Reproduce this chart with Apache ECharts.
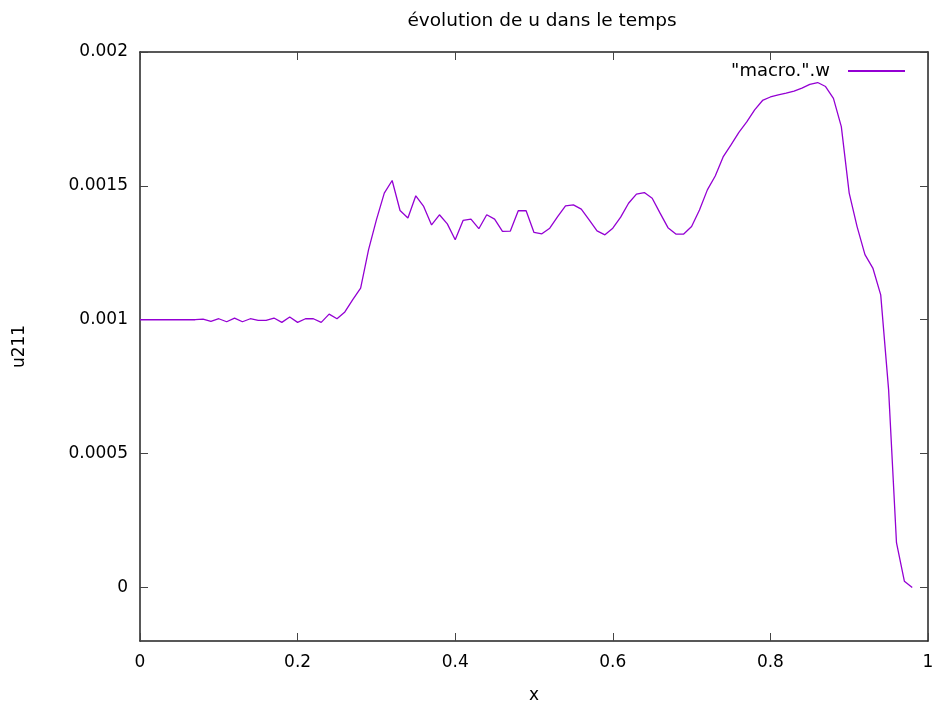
<!DOCTYPE html>
<html>
<head>
<meta charset="utf-8">
<script src="https://cdn.jsdelivr.net/npm/echarts@6/dist/echarts.min.js"></script>
<style>
html,body{margin:0;padding:0;background:#fff;}
#chart{width:938px;height:706px;}
</style>
</head>
<body>
<div id="chart"></div>
<script>
const titleText = "évolution de u dans le temps";
const seriesName = '"macro.".w';
const xValues = [0,0.01,0.02,0.03,0.04,0.05,0.06,0.07,0.08,0.09,
  0.10,0.11,0.12,0.13,0.14,0.15,0.16,0.17,0.18,0.19,
  0.20,0.21,0.22,0.23,0.24,0.25,0.26,0.27,0.28,0.29,
  0.30,0.31,0.32,0.33,0.34,0.35,0.36,0.37,0.38,0.39,
  0.40,0.41,0.42,0.43,0.44,0.45,0.46,0.47,0.48,0.49,
  0.50,0.51,0.52,0.53,0.54,0.55,0.56,0.57,0.58,0.59,
  0.60,0.61,0.62,0.63,0.64,0.65,0.66,0.67,0.68,0.69,
  0.70,0.71,0.72,0.73,0.74,0.75,0.76,0.77,0.78,0.79,
  0.80,0.81,0.82,0.83,0.84,0.85,0.86,0.87,0.88,0.89,
  0.90,0.91,0.92,0.93,0.94,0.95,0.96,0.97,0.98];
const uValues = [0.001,0.001,0.001,0.001,0.001,0.001,0.001,0.001,0.0010026,0.0009937,
  0.0010037,0.0009925,0.0010063,0.0009925,0.0010037,0.0009974,0.0009974,0.0010063,0.00099,0.00101,
  0.00099,0.0010037,0.0010037,0.00099,0.001021,0.0010037,0.001029,0.001075,0.001118,0.001261,
  0.001373,0.001473,0.00152,0.001408,0.00138,0.001463,0.001423,0.001354,0.001392,0.001358,
  0.001299,0.001371,0.001376,0.00134,0.001392,0.001376,0.00133,0.001331,0.001407,0.001407,
  0.001326,0.001321,0.001342,0.001385,0.001425,0.001429,0.001413,0.001373,0.001332,0.001317,
  0.001342,0.001383,0.001435,0.001469,0.001475,0.001454,0.001398,0.001344,0.00132,0.00132,
  0.001348,0.00141,0.001485,0.001537,0.001608,0.001653,0.0017,0.001739,0.001784,0.001819,
  0.001832,0.00184,0.001846,0.001854,0.001865,0.001879,0.001886,0.001871,0.001827,0.001721,
  0.001473,0.001348,0.001243,0.001193,0.001093,0.000739,0.000167,0.0000235,0];
const yTickValues = [0, 0.0005, 0.001, 0.0015, 0.002];
const yTickLabels = ["0", "0.0005", "0.001", "0.0015", "0.002"];
const xTickLabels = ["0", "0.2", "0.4", "0.6", "0.8", "1"];

const FONT = "DejaVu Sans";
const PURPLE = '#9400d3';
const chart = echarts.init(document.getElementById('chart'), null, {renderer: 'canvas'});
const lineCol = '#222';
const axisCommon = {
  axisLine: {show: true, onZero: false, lineStyle: {color: lineCol, width: 1.5}},
  axisTick: {show: true, inside: true, length: 8, lineStyle: {color: '#444', width: 1}},
  splitLine: {show: false}
};
chart.setOption({
  animation: false,
  backgroundColor: '#fff',
  color: [PURPLE],
  title: {
    text: titleText, left: 537, textAlign: 'center', top: 7,
    textStyle: {fontFamily: FONT, fontSize: 18.5, fontWeight: 'normal', color: '#000'}
  },
  legend: {
    right: 33, top: 62, padding: 0, align: 'right', itemWidth: 57, itemHeight: 2, itemGap: 10,
    icon: 'rect',
    itemStyle: {color: PURPLE},
    textStyle: {fontFamily: FONT, fontSize: 18, color: '#000', padding: [0, 13, 0, 0]},
    data: [{name: seriesName, itemStyle: {color: PURPLE}}]
  },
  grid: {left: 140, right: 10, top: 52, bottom: 65, containLabel: false, outerBoundsMode: 'none'},
  xAxis: [
    Object.assign({
      type: 'value', min: 0, max: 1, interval: 0.2, position: 'bottom',
      name: 'x', nameLocation: 'middle', nameGap: 46,
      nameTextStyle: {fontFamily: FONT, fontSize: 17, color: '#000'},
      axisLabel: {fontFamily: FONT, fontSize: 17, color: '#000', margin: 13,
        formatter: (v) => xTickLabels[Math.round(v / 0.2)]}
    }, axisCommon),
    Object.assign({
      type: 'value', min: 0, max: 1, interval: 0.2, position: 'top',
      axisLabel: {show: false}
    }, axisCommon)
  ],
  yAxis: [
    Object.assign({
      type: 'value', min: -0.0002, max: 0.002, position: 'left',
      name: 'u211', nameLocation: 'middle', nameGap: 112, nameRotate: 90,
      nameTextStyle: {fontFamily: FONT, fontSize: 17, color: '#000'},
      axisLabel: {fontFamily: FONT, fontSize: 17, color: '#000', margin: 12,
        customValues: yTickValues,
        formatter: (v) => { const i = yTickValues.findIndex(t => Math.abs(t - v) < 1e-9); return i >= 0 ? yTickLabels[i] : ''; }},
    }, axisCommon, {axisTick: Object.assign({}, axisCommon.axisTick, {customValues: yTickValues})}),
    Object.assign({
      type: 'value', min: -0.0002, max: 0.002, position: 'right',
      axisLabel: {show: false, customValues: yTickValues}
    }, axisCommon, {axisTick: Object.assign({}, axisCommon.axisTick, {customValues: yTickValues})})
  ],
  series: [{
    name: seriesName, type: 'line', xAxisIndex: 0, yAxisIndex: 0,
    showSymbol: false, symbol: 'none',
    lineStyle: {color: PURPLE, width: 1.3},
    itemStyle: {color: PURPLE},
    data: xValues.map((x, i) => [x, uValues[i]])
  }]
});
</script>
</body>
</html>
